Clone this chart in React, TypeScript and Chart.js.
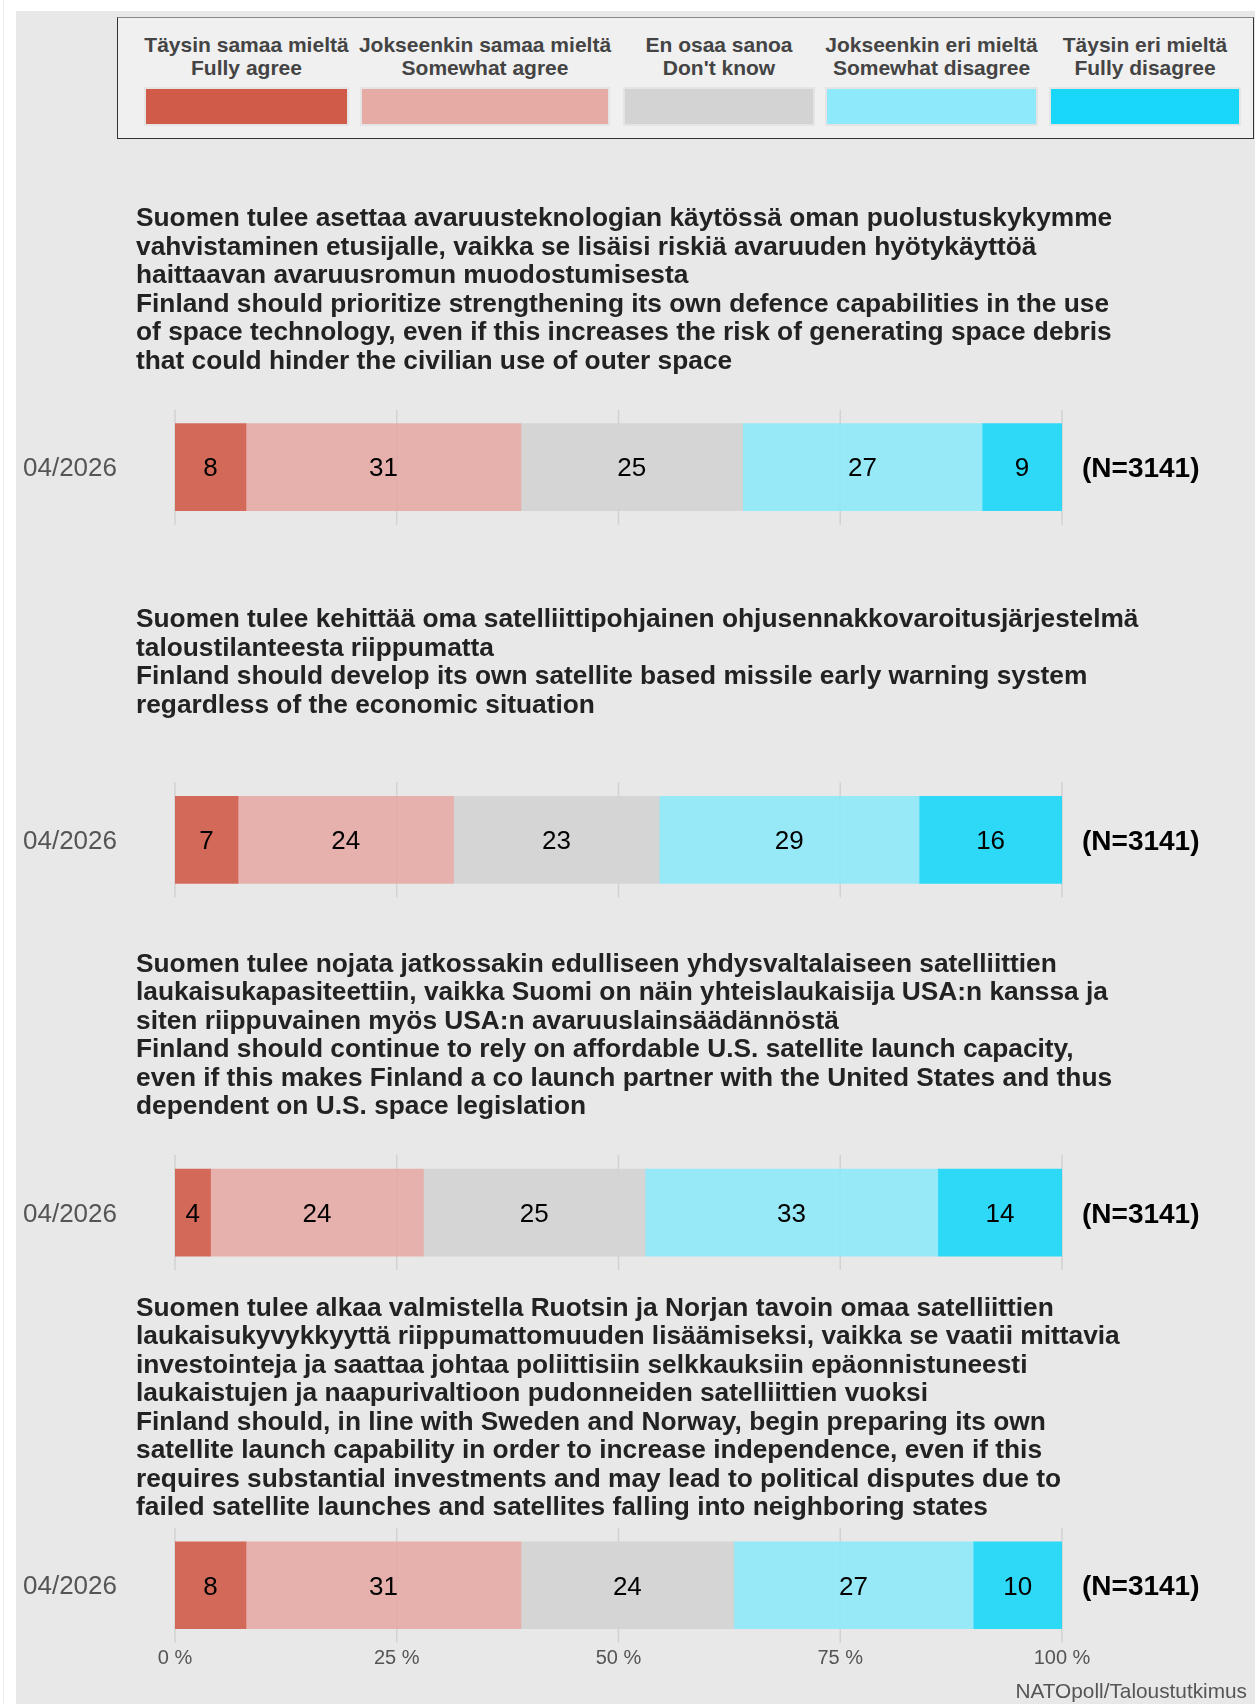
import React, { useEffect, useRef } from 'react';
import { Chart, registerables } from 'chart.js';

Chart.register(...registerables);

const FONT = '"Liberation Sans", Arial, Helvetica, sans-serif';

// ---------- data ----------
const periods = ['04/2026', '04/2026', '04/2026', '04/2026'];
const fullyAgree = [8, 7.1, 4, 8];
const somewhatAgree = [31, 24.3, 24, 31];
const dontKnow = [25, 23.2, 25, 24];
const somewhatDisagree = [27, 29.3, 33, 27];
const fullyDisagree = [9, 16.1, 14, 10];
const sampleSizes = ['(N=3141)', '(N=3141)', '(N=3141)', '(N=3141)'];
const xTickValues = [0, 25, 50, 75, 100];

const seriesNames = [
  ['Täysin samaa mieltä', 'Fully agree'],
  ['Jokseenkin samaa mieltä', 'Somewhat agree'],
  ['En osaa sanoa', "Don't know"],
  ['Jokseenkin eri mieltä', 'Somewhat disagree'],
  ['Täysin eri mieltä', 'Fully disagree'],
];
const seriesColors = ['#D05B49', '#E6ABA5', '#D3D3D3', '#8EE9FA', '#18D7F8'];

const questionTitles = [
  [
    'Suomen tulee asettaa avaruusteknologian käytössä oman puolustuskykymme',
    'vahvistaminen etusijalle, vaikka se lisäisi riskiä avaruuden hyötykäyttöä',
    'haittaavan avaruusromun muodostumisesta',
    'Finland should prioritize strengthening its own defence capabilities in the use',
    'of space technology, even if this increases the risk of generating space debris',
    'that could hinder the civilian use of outer space',
  ],
  [
    'Suomen tulee kehittää oma satelliittipohjainen ohjusennakkovaroitusjärjestelmä',
    'taloustilanteesta riippumatta',
    'Finland should develop its own satellite based missile early warning system',
    'regardless of the economic situation',
  ],
  [
    'Suomen tulee nojata jatkossakin edulliseen yhdysvaltalaiseen satelliittien',
    'laukaisukapasiteettiin, vaikka Suomi on näin yhteislaukaisija USA:n kanssa ja',
    'siten riippuvainen myös USA:n avaruuslainsäädännöstä',
    'Finland should continue to rely on affordable U.S. satellite launch capacity,',
    'even if this makes Finland a co launch partner with the United States and thus',
    'dependent on U.S. space legislation',
  ],
  [
    'Suomen tulee alkaa valmistella Ruotsin ja Norjan tavoin omaa satelliittien',
    'laukaisukyvykkyyttä riippumattomuuden lisäämiseksi, vaikka se vaatii mittavia',
    'investointeja ja saattaa johtaa poliittisiin selkkauksiin epäonnistuneesti',
    'laukaistujen ja naapurivaltioon pudonneiden satelliittien vuoksi',
    'Finland should, in line with Sweden and Norway, begin preparing its own',
    'satellite launch capability in order to increase independence, even if this',
    'requires substantial investments and may lead to political disputes due to',
    'failed satellite launches and satellites falling into neighboring states',
  ],
];

const sourceText = 'NATOpoll/Taloustutkimus';

// ---------- layout (styles only) ----------
const legendLefts = [146, 362, 625, 827, 1051];
const legendWidths = [201, 246, 188, 209, 188];
const BAR_THICKNESS = 87;

function rgba(hex: string, a: number) {
  const n = parseInt(hex.slice(1), 16);
  return `rgba(${(n >> 16) & 255},${(n >> 8) & 255},${n & 255},${a})`;
}

const seriesValues = [fullyAgree, somewhatAgree, dontKnow, somewhatDisagree, fullyDisagree];

const gridPlugin = {
  id: 'panelGrid',
  beforeDatasetsDraw(chart: any) {
    const { ctx, scales } = chart;
    const xs = scales.x;
    const ys = scales.y;
    ctx.save();
    ctx.strokeStyle = '#d2d2d2';
    ctx.lineWidth = 1.5;
    periods.forEach((_, i) => {
      const cy = ys.getPixelForValue(i);
      const half = BAR_THICKNESS / 2 + 14;
      xTickValues.forEach((v) => {
        const px = xs.getPixelForValue(v);
        ctx.beginPath();
        ctx.moveTo(px, cy - half);
        ctx.lineTo(px, cy + half);
        ctx.stroke();
      });
    });
    ctx.restore();
  },
};

const labelPlugin = {
  id: 'labelsAndTitles',
  afterDatasetsDraw(chart: any) {
    const { ctx, scales, chartArea } = chart;
    const ys = scales.y;
    ctx.save();
    // value labels
    ctx.font = `26px ${FONT}`;
    ctx.fillStyle = '#000';
    ctx.textAlign = 'center';
    ctx.textBaseline = 'alphabetic';
    chart.data.datasets.forEach((ds: any, di: number) => {
      const meta = chart.getDatasetMeta(di);
      meta.data.forEach((el: any, i: number) => {
        const p = el.getProps(['x', 'y', 'base'], true);
        const v = seriesValues[di][i];
        ctx.fillText(String(Math.round(v)), (p.x + p.base) / 2, p.y + 9.3);
      });
    });
    // N labels
    ctx.font = `bold 28px ${FONT}`;
    ctx.textAlign = 'left';
    sampleSizes.forEach((s, i) => {
      ctx.fillText(s, chartArea.right + 20, ys.getPixelForValue(i) + 10);
    });
    // titles
    ctx.font = `bold 26.3px ${FONT}`;
    ctx.fillStyle = '#222';
    const lh = 28.5;
    questionTitles.forEach((lines, i) => {
      const blockCenter = ys.getPixelForValue(i) - 179;
      const first = blockCenter - ((lines.length - 1) / 2) * lh;
      lines.forEach((line, k) => {
        ctx.fillText(line, 136, first + k * lh + 9.3);
      });
    });
    ctx.restore();
  },
};

export default function App() {
  const canvasRef = useRef<HTMLCanvasElement>(null);

  useEffect(() => {
    if (!canvasRef.current) return;
    Chart.defaults.font.family = FONT;
    const chart = new Chart(canvasRef.current, {
      type: 'bar',
      data: {
        datasets: seriesValues.map((vals, si) => ({
          label: seriesNames[si].join(' / '),
          data: vals.map((v, i) => ({ x: v, y: i })),
          backgroundColor: rgba(seriesColors[si], 0.9),
          borderWidth: 0,
          barThickness: BAR_THICKNESS,
          stack: 'all',
        })),
      },
      options: {
        indexAxis: 'y',
        animation: false,
        responsive: false,
        devicePixelRatio: 1,
        layout: { padding: { left: 23, right: 193, top: 280.85, bottom: 0 } },
        plugins: {
          legend: { display: false },
          tooltip: { enabled: false },
          title: { display: false },
        },
        scales: {
          x: {
            type: 'linear',
            min: 0,
            max: 100,
            stacked: true,
            offset: false,
            grid: { display: false, drawTicks: false },
            border: { display: false },
            afterBuildTicks: (s: any) => {
              s.ticks = xTickValues.map((v) => ({ value: v }));
            },
            afterFit: (s: any) => {
              s.height = 61;
            },
            ticks: {
              callback: (v: any) => `${v} %`,
              font: { size: 20 },
              color: '#555',
              padding: 3,
              maxRotation: 0,
              autoSkip: false,
            },
          },
          y: {
            type: 'linear',
            reverse: true,
            min: -0.5,
            max: 3.155,
            stacked: true,
            offset: false,
            grid: { display: false, drawTicks: false, offset: false },
            border: { display: false },
            afterBuildTicks: (s: any) => {
              s.ticks = periods.map((_, i) => ({ value: i }));
            },
            afterFit: (s: any) => {
              s.width = 152;
            },
            ticks: {
              callback: (v: any) => periods[v] ?? '',
              font: { size: 26 },
              color: '#555',
              padding: 0,
              crossAlign: 'far',
              labelOffset: 2,
              autoSkip: false,
            },
          },
        },
      } as any,
      plugins: [gridPlugin, labelPlugin],
    });
    return () => chart.destroy();
  }, []);

  return (
    <div
      style={{
        position: 'absolute',
        left: 0,
        top: 0,
        width: 1255,
        height: 1704,
        background: '#fff',
        overflow: 'hidden',
        fontFamily: FONT,
      }}
    >
      <div style={{ position: 'absolute', left: 3, top: 0, width: 1, height: 1704, background: '#ebebeb' }} />
      <div style={{ position: 'absolute', left: 16, top: 11, width: 1239, height: 1693, background: '#E8E8E8' }} />
      <canvas
        ref={canvasRef}
        width={1255}
        height={1704}
        style={{ position: 'absolute', left: 0, top: 0, width: 1255, height: 1704 }}
      />
      <div
        style={{
          position: 'absolute',
          left: 117,
          top: 17,
          width: 1137,
          height: 122,
          boxSizing: 'border-box',
          border: '1px solid #333',
          borderTopColor: '#888',
          background: '#F0F0F0',
        }}
      />
      {seriesNames.map((names, i) => (
        <React.Fragment key={i}>
          <div
            style={{
              position: 'absolute',
              left: legendLefts[i] - 10,
              top: 34,
              width: legendWidths[i] + 20,
              textAlign: 'center',
              font: `bold 21px/22.5px ${FONT}`,
              color: '#444',
              whiteSpace: 'nowrap',
            }}
          >
            {names[0]}
            <br />
            {names[1]}
          </div>
          <div
            style={{
              position: 'absolute',
              left: legendLefts[i],
              top: 89,
              width: legendWidths[i],
              height: 35,
              background: seriesColors[i],
              boxShadow: '0 0 0 2px #e4e4e4',
            }}
          />
        </React.Fragment>
      ))}
      <div
        style={{
          position: 'absolute',
          right: 8,
          top: 1679,
          font: `20.8px/24px ${FONT}`,
          color: '#555',
          whiteSpace: 'nowrap',
        }}
      >
        {sourceText}
      </div>
    </div>
  );
}
